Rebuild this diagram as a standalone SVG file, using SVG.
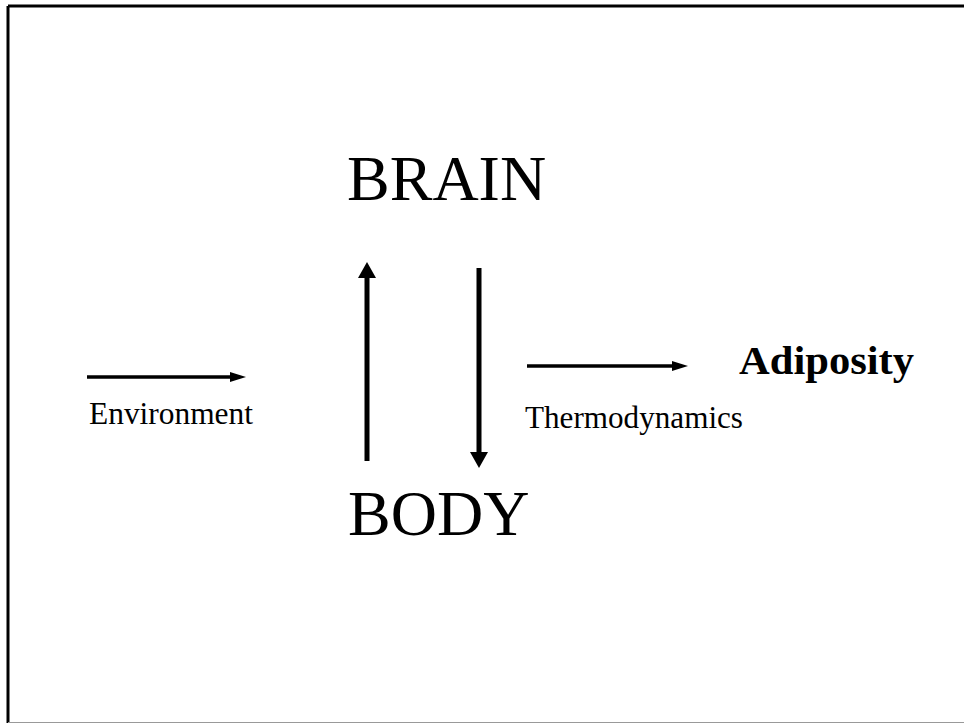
<svg xmlns="http://www.w3.org/2000/svg" width="964" height="723" viewBox="0 0 964 723">
<defs>
<style>
.t{font-family:"Liberation Serif","Times New Roman",serif;fill:#000}
.big{font-size:64px}
.sm{font-size:31px}
.b{font-size:40px;font-weight:bold}
.c{stroke:#000;fill:none}
</style>
</defs>
<rect width="964" height="723" fill="#fff"/>
<g id="frame">
<line x1="8" y1="6" x2="964" y2="6" stroke="#000" stroke-width="3"/>
<line x1="8" y1="6" x2="8" y2="723" stroke="#000" stroke-width="3"/>
<line x1="8" y1="722.5" x2="964" y2="722.5" stroke="#999" stroke-width="1"/>
</g>
<g id="connectors">
<line class="c" x1="87" y1="377" x2="232" y2="377" stroke-width="3.5"/>
<polygon points="230,372 246,377 230,382" fill="#000"/>
<line class="c" x1="527" y1="366" x2="674" y2="366" stroke-width="3.5"/>
<polygon points="672,361 688,366 672,371" fill="#000"/>
<line class="c" x1="367" y1="461" x2="367" y2="276" stroke-width="5"/>
<polygon points="358,278 367,262 376,278" fill="#000"/>
<line class="c" x1="479" y1="268" x2="479" y2="454" stroke-width="5"/>
<polygon points="470,452 479,468 488,452" fill="#000"/>
</g>
<g id="brain"><text class="t big" x="347" y="200">BRAIN</text></g>
<g id="body"><text class="t big" x="348" y="535">BODY</text></g>
<g id="environment"><text class="t sm" x="89" y="424" textLength="164" lengthAdjust="spacingAndGlyphs">Environment</text></g>
<g id="thermodynamics"><text class="t sm" x="525" y="428" textLength="218" lengthAdjust="spacingAndGlyphs">Thermodynamics</text></g>
<g id="adiposity"><text class="t b" x="739" y="374" textLength="175" lengthAdjust="spacingAndGlyphs">Adiposity</text></g>
</svg>
